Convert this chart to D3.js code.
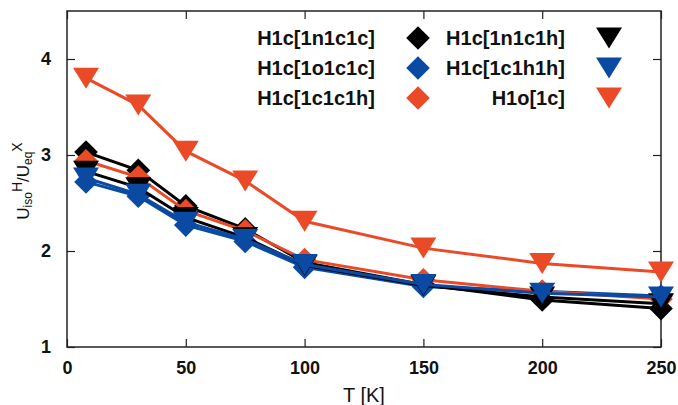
<!DOCTYPE html>
<html>
<head>
<meta charset="utf-8">
<script src="https://cdn.jsdelivr.net/npm/d3@7"></script>
<style>
  body { margin: 0; background: #fff; }
  text { font-family: "Liberation Sans", Arial, sans-serif; }
</style>
</head>
<body>
<svg width="678" height="405"></svg>
<script>
// temperatures [K]
let temps = [8, 30, 50, 75, 100, 150, 200, 250];

let n1c1c = [3.03, 2.84, 2.47, 2.23, 1.88, 1.65, 1.49, 1.40];
let o1c1c = [2.72, 2.57, 2.27, 2.10, 1.83, 1.63, 1.58, 1.53];
let c1c1h = [2.94, 2.77, 2.42, 2.21, 1.91, 1.70, 1.58, 1.50];
let n1c1h = [2.83, 2.66, 2.35, 2.14, 1.85, 1.64, 1.52, 1.45];
let c1h1h = [2.76, 2.59, 2.30, 2.12, 1.86, 1.65, 1.56, 1.52];
let o1c   = [3.80, 3.52, 3.04, 2.73, 2.31, 2.03, 1.87, 1.78];

let xTicks = [0, 50, 100, 150, 200, 250];
let yTicks = [1, 2, 3, 4];

let series = [
    { name: "H1c[1n1c1c]", values: n1c1c, color: "#000000", shape: "diamond", col: 0, row: 0 },
    { name: "H1c[1o1c1c]", values: o1c1c, color: "#0a4aa3", shape: "diamond", col: 0, row: 1 },
    { name: "H1c[1c1c1h]", values: c1c1h, color: "#ea4a26", shape: "diamond", col: 0, row: 2 },
    { name: "H1c[1n1c1h]", values: n1c1h, color: "#000000", shape: "tri", col: 1, row: 0 },
    { name: "H1c[1c1h1h]", values: c1h1h, color: "#0a4aa3", shape: "tri", col: 1, row: 1 },
    { name: "H1o[1c]",     values: o1c,   color: "#ea4a26", shape: "tri", col: 1, row: 2 }
];

let svg = d3.select("svg"),
    margin = { top: 11, right: 17, bottom: 58, left: 67 },
    width = +svg.attr("width") - margin.left - margin.right,
    height = +svg.attr("height") - margin.top - margin.bottom,
    g = svg.append("g").attr("transform", `translate(${margin.left},${margin.top})`);

let x = d3.scaleLinear().domain([0, 250]).range([0, width]);
let y = d3.scaleLinear().domain([1, 4.5]).range([height, 0]);

// frame
g.append("rect")
    .attr("width", width)
    .attr("height", height)
    .attr("fill", "none")
    .attr("stroke", "#222")
    .attr("stroke-width", 1.5);

// axes with inward ticks
let styleAxis = a => {
    a.select(".domain").remove();
    a.selectAll(".tick line").attr("stroke", "#222").attr("stroke-width", 1.2);
    a.selectAll(".tick text")
        .attr("font-size", 18)
        .attr("font-weight", "bold")
        .attr("fill", "#111");
};

g.append("g")
    .attr("transform", `translate(0,${height})`)
    .call(d3.axisBottom(x).tickValues(xTicks).tickSize(-8).tickPadding(14))
    .call(styleAxis);

g.append("g")
    .call(d3.axisTop(x).tickValues(xTicks).tickSize(-8).tickFormat(""))
    .call(styleAxis);

g.append("g")
    .call(d3.axisLeft(y).tickValues(yTicks).tickSize(-8).tickPadding(16).tickFormat(d3.format("d")))
    .call(styleAxis);

g.append("g")
    .attr("transform", `translate(${width},0)`)
    .call(d3.axisRight(y).tickValues(yTicks).tickSize(-8).tickFormat(""))
    .call(styleAxis);

// symbols
let diamond = d3.symbol().type(d3.symbolSquare).size(280);
let tri = () => {
    let w = 13, h = 21;
    return `M${-w},${-h / 2}L${w},${-h / 2}L0,${h / 2}Z`;
};
let shapePath = s => s === "diamond" ? diamond() : tri();
let shapeTransform = (s, px, py) => s === "diamond"
    ? `translate(${px},${py}) rotate(45)`
    : `translate(${px},${py})`;

let line = d3.line()
    .x((d, i) => x(temps[i]))
    .y(d => y(d));

series.forEach(s => {
    let sg = g.append("g");
    sg.append("path")
        .datum(s.values)
        .attr("d", line)
        .attr("fill", "none")
        .attr("stroke", s.color)
        .attr("stroke-width", 3);
    sg.selectAll("path.m")
        .data(s.values)
        .join("path")
        .attr("class", "m")
        .attr("d", shapePath(s.shape))
        .attr("transform", (d, i) => shapeTransform(s.shape, x(temps[i]), y(d)))
        .attr("fill", s.color);
});

// legend
let legX = [375, 565], legMark = [418, 609], legY = [38, 68, 98];
let leg = svg.append("g");
series.forEach(s => {
    leg.append("text")
        .attr("x", legX[s.col])
        .attr("y", legY[s.row] + 7)
        .attr("text-anchor", "end")
        .attr("font-size", 20)
        .attr("font-weight", "bold")
        .attr("fill", "#111")
        .text(s.name);
    leg.append("path")
        .attr("d", shapePath(s.shape))
        .attr("transform", shapeTransform(s.shape, legMark[s.col], legY[s.row]))
        .attr("fill", s.color);
});

// axis labels
svg.append("text")
    .attr("x", 364)
    .attr("y", 402)
    .attr("text-anchor", "middle")
    .attr("font-size", 20)
    .attr("fill", "#111")
    .text("T [K]");

let yl = svg.append("text")
    .attr("transform", "translate(29,181) rotate(-90)")
    .attr("text-anchor", "middle")
    .attr("font-size", 17)
    .attr("fill", "#111");
yl.append("tspan").text("U");
yl.append("tspan").attr("font-size", 12).attr("dy", 3).text("iso");
yl.append("tspan").attr("font-size", 14).attr("dy", -10).text("H");
yl.append("tspan").attr("dy", 7).text("/U");
yl.append("tspan").attr("font-size", 12).attr("dy", 3).text("eq");
yl.append("tspan").attr("font-size", 14).attr("dy", -10).text("X");
</script>
</body>
</html>
